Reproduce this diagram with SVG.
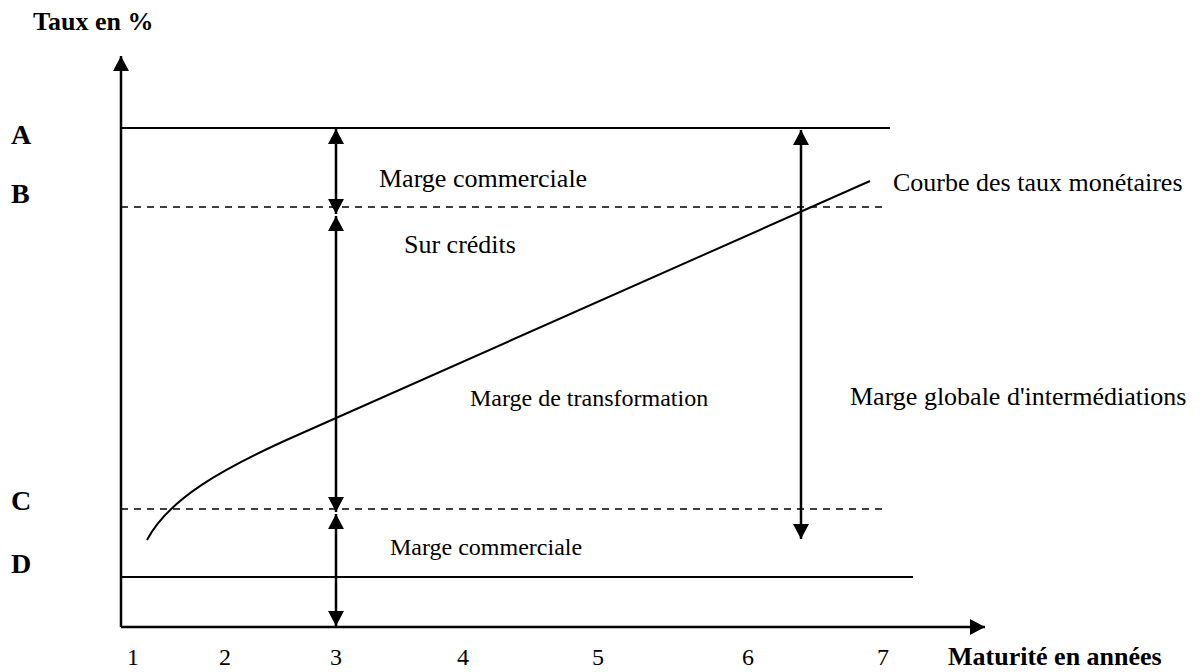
<svg xmlns="http://www.w3.org/2000/svg" width="1203" height="672" viewBox="0 0 1203 672">
<style>
.t{font-family:"Liberation Serif","Times New Roman",serif;fill:#000}
.b{font-weight:bold}
.ax{stroke:#000;stroke-width:2.5;fill:none}
.sol{stroke:#000;stroke-width:2;fill:none}
.dash{stroke:#000;stroke-width:1.6;stroke-dasharray:7 6;fill:none}
.arr{stroke:#000;stroke-width:2.5;fill:none}
</style>
<defs>
<marker id="ah" viewBox="0 0 10 10" refX="10" refY="5" markerUnits="userSpaceOnUse" markerWidth="15" markerHeight="16" orient="auto-start-reverse" preserveAspectRatio="none">
<path d="M0,0 L10,5 L0,10 z" fill="#000"/>
</marker>
</defs>
<rect width="1203" height="672" fill="#fff"/>
<g id="axes">
<line class="ax" x1="121" y1="627" x2="121" y2="56" marker-end="url(#ah)"/>
<line class="ax" x1="121" y1="627" x2="985" y2="627" marker-end="url(#ah)"/>
</g>
<g id="levels">
<line class="sol" x1="121" y1="128" x2="890" y2="128"/>
<line class="dash" x1="121" y1="207" x2="886" y2="207"/>
<line class="dash" x1="121" y1="509" x2="886" y2="509"/>
<line class="sol" x1="121" y1="577" x2="913" y2="577"/>
</g>
<g id="curve">
<path class="sol" d="M147,540 C168,500 220,469 300,434 L870,181"/>
</g>
<g id="connectors">
<line class="arr" x1="336" y1="129" x2="336" y2="214" marker-start="url(#ah)" marker-end="url(#ah)"/>
<line class="arr" x1="336" y1="216" x2="336" y2="512" marker-start="url(#ah)" marker-end="url(#ah)"/>
<line class="arr" x1="336" y1="514" x2="336" y2="626" marker-start="url(#ah)" marker-end="url(#ah)"/>
<line class="arr" x1="801" y1="130" x2="801" y2="539" marker-start="url(#ah)" marker-end="url(#ah)"/>
</g>
<g id="labels">
<text class="t b" x="33" y="30" font-size="26">Taux en %</text>
<text class="t b" x="11" y="144" font-size="28">A</text>
<text class="t b" x="11" y="203" font-size="28">B</text>
<text class="t b" x="11" y="510" font-size="28">C</text>
<text class="t b" x="11" y="573" font-size="28">D</text>
<text class="t" x="379" y="187" font-size="26">Marge commerciale</text>
<text class="t" x="404" y="253" font-size="26">Sur crédits</text>
<text class="t" x="470" y="406" font-size="24">Marge de transformation</text>
<text class="t" x="390" y="555" font-size="24">Marge commerciale</text>
<text class="t" x="893" y="191" font-size="26">Courbe des taux monétaires</text>
<text class="t" x="850" y="405" font-size="26">Marge globale d'intermédiations</text>
<text class="t b" x="948" y="665" font-size="26">Maturité en années</text>
</g>
<g id="ticks" class="t" font-size="24" text-anchor="middle">
<text x="133" y="665">1</text>
<text x="225" y="665">2</text>
<text x="336" y="665">3</text>
<text x="463" y="665">4</text>
<text x="598" y="665">5</text>
<text x="748" y="665">6</text>
<text x="883" y="665">7</text>
</g>
</svg>
